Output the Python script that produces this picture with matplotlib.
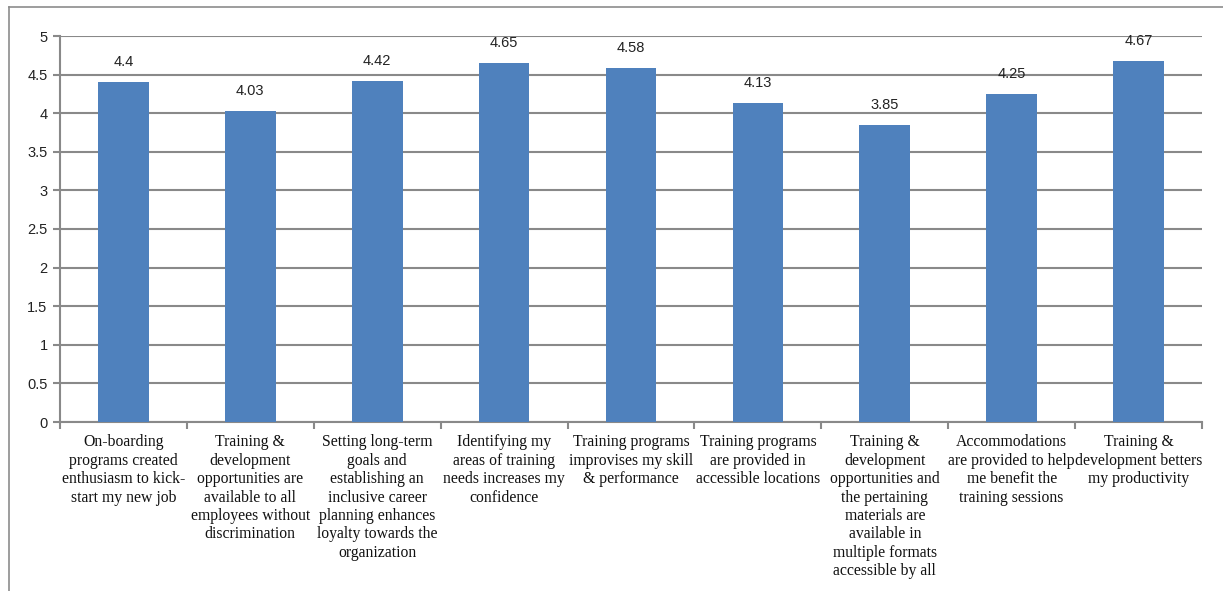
import matplotlib.pyplot as plt
import numpy as np
from matplotlib.lines import Line2D

statements = [
    "On-boarding\nprograms created\nenthusiasm to kick-\nstart my new job",
    "Training &\ndevelopment\nopportunities are\navailable to all\nemployees without\ndiscrimination",
    "Setting long-term\ngoals and\nestablishing an\ninclusive career\nplanning enhances\nloyalty towards the\norganization",
    "Identifying my\nareas of training\nneeds increases my\nconfidence",
    "Training programs\nimprovises my skill\n& performance",
    "Training programs\nare provided in\naccessible locations",
    "Training &\ndevelopment\nopportunities and\nthe pertaining\nmaterials are\navailable in\nmultiple formats\naccessible by all",
    "Accommodations\nare provided to help\nme benefit the\ntraining sessions",
    "Training &\ndevelopment betters\nmy productivity",
]
mean_scores = [4.4, 4.03, 4.42, 4.65, 4.58, 4.13, 3.85, 4.25, 4.67]
y_ticks = [0, 0.5, 1, 1.5, 2, 2.5, 3, 3.5, 4, 4.5, 5]

grid_col = "#898989"

fig = plt.figure(figsize=(12.23, 5.91), dpi=100)
ax = fig.add_axes([60 / 1223, 1 - 422 / 591, 1142 / 1223, 386 / 591])

x = np.arange(len(mean_scores))
ax.bar(x, mean_scores, width=0.4, color="#4F81BD", zorder=3)

for xi, v in zip(x, mean_scores):
    ax.annotate(f"{v:g}", (xi, v), xytext=(0, 14.5), textcoords="offset points",
                ha="center", va="center", fontsize=10.5,
                family="Liberation Sans", color="#222222")

ax.set_xlim(-0.5, len(mean_scores) - 0.5)
ax.set_ylim(0, 5)
ax.set_yticks(y_ticks)
ax.set_yticklabels([f"{t:g}" for t in y_ticks], family="Liberation Sans",
                   fontsize=10.5, color="#222222")
ax.yaxis.grid(True, color=grid_col, linewidth=1.5, zorder=0)

ax.set_xticks(x)
ax.set_xticklabels(statements, family="Liberation Serif", fontsize=11.3,
                   linespacing=1.2, va="top", color="#111111")
ax.set_xticks(np.arange(len(mean_scores) + 1) - 0.5, minor=True)
ax.tick_params(axis="x", which="major", length=0, pad=9)
ax.tick_params(axis="x", which="minor", length=5, width=1.5, color=grid_col)
ax.tick_params(axis="y", length=5, width=1.5, color=grid_col, pad=4)

for side in ["top", "right"]:
    ax.spines[side].set_visible(False)
for side in ["left", "bottom"]:
    ax.spines[side].set_color(grid_col)
    ax.spines[side].set_linewidth(1.5)

# outer chart frame (top and left edges)
fig.add_artist(Line2D([9 / 1223, 1], [1 - 7 / 591, 1 - 7 / 591],
                      color="#8c8c8c", linewidth=1.2, transform=fig.transFigure))
fig.add_artist(Line2D([9 / 1223, 9 / 1223], [0, 1 - 7 / 591],
                      color="#8c8c8c", linewidth=1.2, transform=fig.transFigure))

fig.savefig("out.png", dpi=100)
